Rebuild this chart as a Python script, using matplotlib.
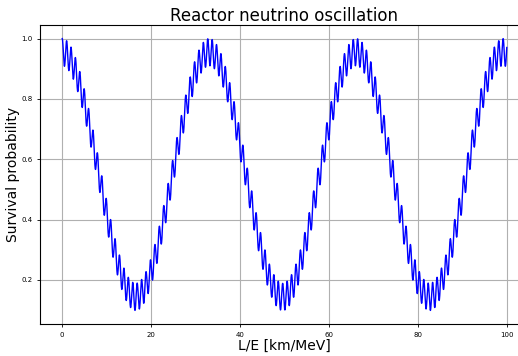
import numpy as np
import matplotlib
matplotlib.use("Agg")
from matplotlib import pyplot as plt

# oscillation parameters
SIN2_2THETA12 = 0.85   # depth of the slow oscillation
SIN2_2THETA13 = 0.09   # depth of the fast wiggles
DM21 = 7.5e-5          # eV^2, slow period ~33 km/MeV
DM31 = 2.5e-3          # eV^2, fast period ~1 km/MeV
L_OVER_E_MAX = 100.0   # km/MeV

XTICKS = [0, 20, 40, 60, 80, 100]
YTICKS = [0.2, 0.4, 0.6, 0.8, 1.0]

x = np.linspace(0, L_OVER_E_MAX, 4000)
cos4_13 = (1 - (1 - np.sqrt(1 - SIN2_2THETA13)) / 2) ** 2
p = (1
     - cos4_13 * SIN2_2THETA12 * np.sin(1.267e3 * DM21 * x) ** 2
     - SIN2_2THETA13 * np.sin(1.267e3 * DM31 * x) ** 2)

fig = plt.figure(figsize=(5.18, 3.56), dpi=100)
ax = fig.add_axes([40 / 518, 32 / 356, 489 / 518, 299 / 356])
ax.plot(x, p, color="blue", linewidth=1.0)
ax.set_xticks(XTICKS)
ax.set_yticks(YTICKS)
ax.tick_params(labelsize=5, length=2, width=0.6)
ax.grid(True, color="#b0b0b0", linewidth=0.8)
ax.set_title("Reactor neutrino oscillation", fontsize=12, pad=3)
ax.set_xlabel("L/E [km/MeV]", fontsize=10, labelpad=1)
ax.set_ylabel("Survival probability", fontsize=10, labelpad=1)

fig.savefig("out.png", dpi=100)
